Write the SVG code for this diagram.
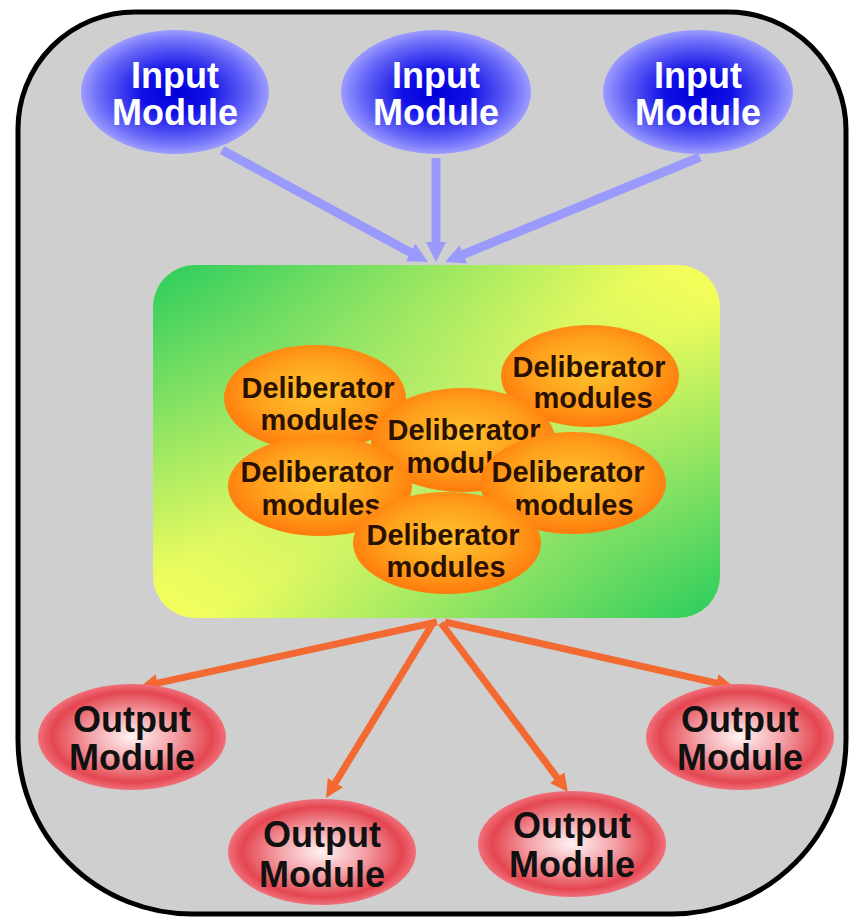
<svg xmlns="http://www.w3.org/2000/svg" width="851" height="920" viewBox="0 0 851 920">
<defs>
<radialGradient id="gIn" cx="50%" cy="50%" r="50%">
<stop offset="0" stop-color="#0000d8"/>
<stop offset="0.35" stop-color="#1010e6"/>
<stop offset="0.8" stop-color="#6a6af8"/>
<stop offset="1" stop-color="#9c9cff"/>
</radialGradient>
<radialGradient id="gDel" cx="50%" cy="45%" r="55%">
<stop offset="0" stop-color="#ffc22c"/>
<stop offset="0.6" stop-color="#ffa01c"/>
<stop offset="1" stop-color="#ff7a0c"/>
</radialGradient>
<radialGradient id="gOut" cx="50%" cy="50%" r="50%">
<stop offset="0" stop-color="#fff4f4"/>
<stop offset="0.45" stop-color="#f4a2a8"/>
<stop offset="0.85" stop-color="#e44650"/>
<stop offset="1" stop-color="#f0707a"/>
</radialGradient>
<linearGradient id="gBoxA" x1="1" y1="0" x2="0" y2="1">
<stop offset="0" stop-color="#f8ff58"/>
<stop offset="0.5" stop-color="#b4ec6c"/>
<stop offset="1" stop-color="#f6ff5c"/>
</linearGradient>
<linearGradient id="gBoxB" x1="0" y1="0" x2="1" y2="1">
<stop offset="0" stop-color="#28cc5c" stop-opacity="1"/>
<stop offset="0.45" stop-color="#60d860" stop-opacity="0"/>
<stop offset="0.55" stop-color="#60d860" stop-opacity="0"/>
<stop offset="1" stop-color="#28cc5c" stop-opacity="1"/>
</linearGradient>
<marker id="mBlue" viewBox="0 0 10 10" refX="2" refY="5" markerWidth="20" markerHeight="20" markerUnits="userSpaceOnUse" orient="auto">
<path d="M0,0 L10,5 L0,10 z" fill="#9a9afc"/>
</marker>
<marker id="mOrange" viewBox="0 0 10 10" refX="2" refY="5" markerWidth="18" markerHeight="18" markerUnits="userSpaceOnUse" orient="auto">
<path d="M0,0 L10,5 L0,10 z" fill="#f26a32"/>
</marker>
</defs>
<style>
.t { font-family: "Liberation Sans", Arial, sans-serif; font-weight: bold; text-anchor: middle; }
.tin { font-size: 36px; fill: #ffffff; }
.tout { font-size: 36px; fill: #111111; }
.tdel { font-size: 29px; fill: #2a1000; }
.blue { stroke: #9a9afc; stroke-width: 9; fill: none; marker-end: url(#mBlue); }
.orange { stroke: #f26a32; stroke-width: 7; fill: none; marker-end: url(#mOrange); }
</style>

<g id="frame">
<path d="M135,12 L728,12 A118,118 0 0 1 846,130 L846,740 A174,174 0 0 1 672,914 L192,914 A174,174 0 0 1 18,740 L18,130 A117,117 0 0 1 135,12 Z" fill="#cfcfcf" stroke="#000000" stroke-width="5"/>
</g>

<g id="connectors">
<line class="blue" x1="222" y1="150" x2="414" y2="254.4"/>
<line class="blue" x1="436" y1="158" x2="436" y2="246"/>
<line class="blue" x1="700" y1="157" x2="459.8" y2="255.9"/>
<line class="orange" x1="437" y1="622" x2="154.1" y2="683.9"/>
<line class="orange" x1="433" y1="623" x2="333.5" y2="785.7"/>
<line class="orange" x1="441" y1="623" x2="559.3" y2="780.5"/>
<line class="orange" x1="445" y1="622" x2="719.9" y2="683.8"/>
</g>

<g id="input1">
<ellipse cx="175" cy="92" rx="94" ry="62" fill="url(#gIn)"/>
<text class="t tin" x="175" y="88">Input</text>
<text class="t tin" x="175" y="125">Module</text>
</g>
<g id="input2">
<ellipse cx="436" cy="92" rx="95" ry="62" fill="url(#gIn)"/>
<text class="t tin" x="436" y="88">Input</text>
<text class="t tin" x="436" y="125">Module</text>
</g>
<g id="input3">
<ellipse cx="698" cy="92" rx="95" ry="62" fill="url(#gIn)"/>
<text class="t tin" x="698" y="88">Input</text>
<text class="t tin" x="698" y="125">Module</text>
</g>

<g id="deliberator-box">
<rect x="153" y="265" width="567" height="353" rx="42" ry="42" fill="url(#gBoxA)"/>
<rect x="153" y="265" width="567" height="353" rx="42" ry="42" fill="url(#gBoxB)"/>
</g>

<g id="del1">
<ellipse cx="315" cy="398" rx="91" ry="53" fill="url(#gDel)"/>
<text class="t tdel" x="318" y="398">Deliberator</text>
<text class="t tdel" x="320" y="430">modules</text>
</g>
<g id="del2">
<ellipse cx="590" cy="376" rx="89" ry="51" fill="url(#gDel)"/>
<text class="t tdel" x="589" y="377">Deliberator</text>
<text class="t tdel" x="593" y="408">modules</text>
</g>
<g id="del3">
<ellipse cx="463" cy="440" rx="92" ry="52" fill="url(#gDel)"/>
<text class="t tdel" x="464" y="440">Deliberator</text>
<text class="t tdel" x="466" y="473">modules</text>
</g>
<g id="del4">
<ellipse cx="320" cy="486" rx="92" ry="50" fill="url(#gDel)"/>
<text class="t tdel" x="317" y="482">Deliberator</text>
<text class="t tdel" x="321" y="515">modules</text>
</g>
<g id="del5">
<ellipse cx="573" cy="483" rx="93" ry="51" fill="url(#gDel)"/>
<text class="t tdel" x="568" y="482">Deliberator</text>
<text class="t tdel" x="574" y="515">modules</text>
</g>
<g id="del6">
<ellipse cx="447" cy="543" rx="94" ry="51" fill="url(#gDel)"/>
<text class="t tdel" x="443" y="545">Deliberator</text>
<text class="t tdel" x="446" y="577">modules</text>
</g>

<g id="output1">
<ellipse cx="132" cy="737" rx="94" ry="53" fill="url(#gOut)"/>
<text class="t tout" x="132" y="732">Output</text>
<text class="t tout" x="132" y="770">Module</text>
</g>
<g id="output2">
<ellipse cx="322" cy="852" rx="94" ry="53" fill="url(#gOut)"/>
<text class="t tout" x="322" y="847">Output</text>
<text class="t tout" x="322" y="887">Module</text>
</g>
<g id="output3">
<ellipse cx="572" cy="844" rx="94" ry="53" fill="url(#gOut)"/>
<text class="t tout" x="572" y="838">Output</text>
<text class="t tout" x="572" y="877">Module</text>
</g>
<g id="output4">
<ellipse cx="740" cy="737" rx="94" ry="53" fill="url(#gOut)"/>
<text class="t tout" x="740" y="732">Output</text>
<text class="t tout" x="740" y="770">Module</text>
</g>
</svg>
